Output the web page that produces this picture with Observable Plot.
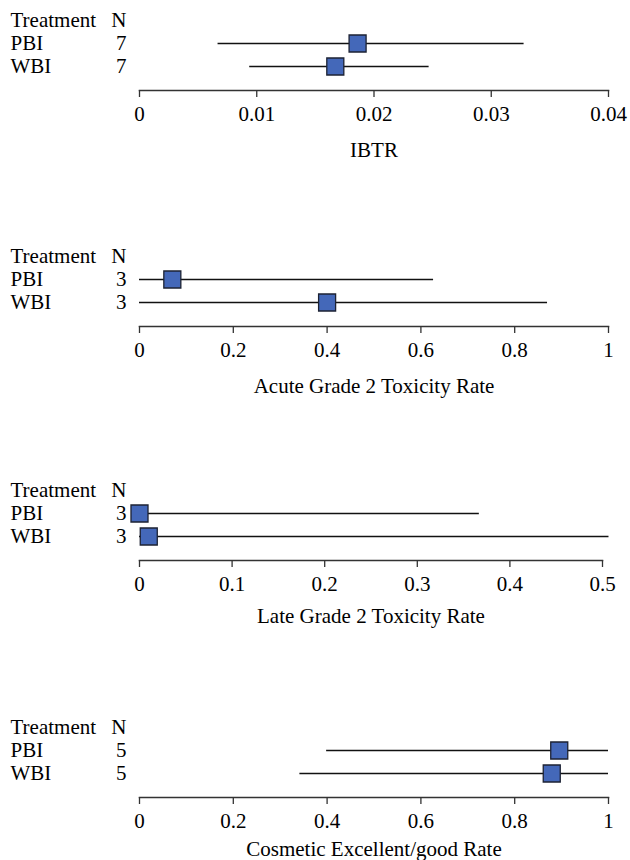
<!DOCTYPE html>
<html>
<head>
<meta charset="utf-8">
<script src="https://cdn.jsdelivr.net/npm/d3@7"></script>
<script src="https://cdn.jsdelivr.net/npm/@observablehq/plot@0.6"></script>
<style>
  html, body { margin: 0; padding: 0; background: white; }
  #chart { width: 630px; }
  #chart svg { display: block; overflow: visible; }
</style>
</head>
<body>
<div id="chart"></div>
<script>
// ---- data ----
const treatments = ["PBI", "WBI"];

const ibtrN = [7, 7];
const ibtrEst = [0.0186, 0.0167];
const ibtrLo = [0.0067, 0.0094];
const ibtrHi = [0.0328, 0.0247];
const ibtrTicks = [0, 0.01, 0.02, 0.03, 0.04];

const acuteN = [3, 3];
const acuteEst = [0.07, 0.40];
const acuteLo = [0, 0];
const acuteHi = [0.627, 0.87];
const acuteTicks = [0, 0.2, 0.4, 0.6, 0.8, 1];

const lateN = [3, 3];
const lateEst = [0.0, 0.01];
const lateLo = [0, 0];
const lateHi = [0.367, 0.507];
const lateTicks = [0, 0.1, 0.2, 0.3, 0.4, 0.5];

const cosmN = [5, 5];
const cosmEst = [0.895, 0.879];
const cosmLo = [0.399, 0.342];
const cosmHi = [1, 1];
const cosmTicks = [0, 0.2, 0.4, 0.6, 0.8, 1];

const panelLabels = ["IBTR", "Acute Grade 2 Toxicity Rate", "Late Grade 2 Toxicity Rate", "Cosmetic Excellent/good Rate"];

// ---- drawing ----
const fontFamily = "'Liberation Serif', 'Times New Roman', serif";
const fmt = d3.format("~g");
const fs = 21;

function panel({label, domain, ticks, n, est, lo, hi, marginRight, height, labelDy}) {
  const rows = treatments.map((t, i) => ({trt: t, n: String(n[i]), est: est[i], lo: lo[i], hi: hi[i]}));
  return Plot.plot({
    width: 630,
    height,
    marginLeft: 139,
    marginRight,
    marginTop: 0,
    marginBottom: height - 90,
    style: {fontFamily, fontSize: fs + "px", color: "black", background: "white", overflow: "visible"},
    x: {domain, axis: null},
    y: {type: "point", domain: ["Treatment", ...treatments], range: [20, 66], padding: 0, axis: null},
    marks: [
      Plot.frame({anchor: "bottom", stroke: "#333", strokeWidth: 1.5}),
      Plot.axisX({ticks, tickFormat: fmt, tickSize: 7, tickPadding: 9, fontSize: fs, stroke: "#333", strokeWidth: 1.3, label: null}),
      Plot.text([label], {frameAnchor: "bottom", lineAnchor: "middle", dy: labelDy, text: d => d, fontSize: fs}),
      Plot.ruleY(rows, {y: "trt", x1: "lo", x2: "hi", stroke: "#111", strokeWidth: 1.3}),
      Plot.dot(rows, {x: "est", y: "trt", symbol: "square", r: 9.6, fill: "#4468B9", stroke: "#1c2233", strokeWidth: 1.3}),
      Plot.text(rows, {y: "trt", text: "trt", frameAnchor: "left", textAnchor: "start", dx: -129, fontSize: fs}),
      Plot.text(rows, {y: "trt", text: "n", frameAnchor: "left", textAnchor: "end", dx: -13, fontSize: fs}),
      Plot.text(["Treatment"], {y: d => d, text: d => d, frameAnchor: "left", textAnchor: "start", dx: -129, fontSize: fs}),
      Plot.text(["N"], {y: () => "Treatment", text: d => d, frameAnchor: "left", textAnchor: "end", dx: -13, fontSize: fs})
    ]
  });
}

const chart = document.getElementById("chart");
chart.append(panel({label: panelLabels[0], domain: [0, 0.04], ticks: ibtrTicks, n: ibtrN, est: ibtrEst, lo: ibtrLo, hi: ibtrHi, marginRight: 22, height: 236, labelDy: 60}));
chart.append(panel({label: panelLabels[1], domain: [0, 1], ticks: acuteTicks, n: acuteN, est: acuteEst, lo: acuteLo, hi: acuteHi, marginRight: 22, height: 234, labelDy: 60}));
chart.append(panel({label: panelLabels[2], domain: [0, 0.5], ticks: lateTicks, n: lateN, est: lateEst, lo: lateLo, hi: lateHi, marginRight: 28, height: 237, labelDy: 56}));
chart.append(panel({label: panelLabels[3], domain: [0, 1], ticks: cosmTicks, n: cosmN, est: cosmEst, lo: cosmLo, hi: cosmHi, marginRight: 22, height: 153, labelDy: 52}));
</script>
</body>
</html>
